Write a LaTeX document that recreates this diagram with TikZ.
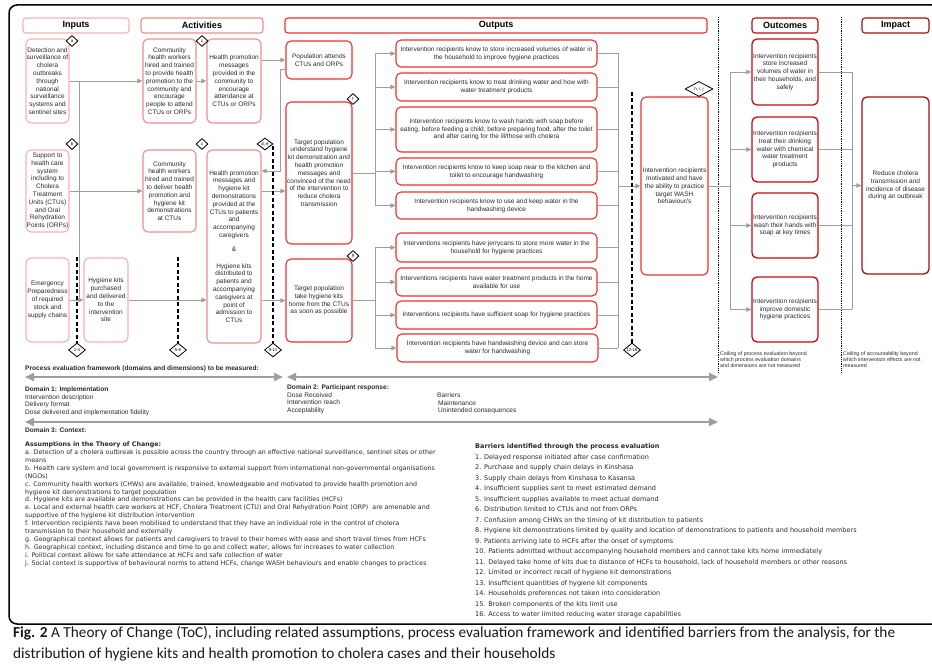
\documentclass[tikz,border=0pt]{standalone}
\usepackage{fontspec}
\setmainfont{Liberation Sans}
\newfontfamily\verdana{DejaVu Sans}
\newfontfamily\capfont{Carlito}
\usetikzlibrary{arrows.meta,shapes.geometric}

\definecolor{colIn}{HTML}{F7B0B0}
\definecolor{colAct}{HTML}{F28C8C}
\definecolor{colOut}{HTML}{EE3030}
\definecolor{colOc}{HTML}{C40A0A}
\definecolor{colImp}{HTML}{A01010}
\definecolor{conn}{HTML}{9E9E9E}
\definecolor{txt}{HTML}{2A2A2A}

\tikzset{
  box/.style={draw, rounded corners=5pt, line width=1.1pt, align=center, inner sep=0pt,
              font=\fontsize{6.5}{7.8}\selectfont, text=txt},
  head/.style={draw, rounded corners=3pt, line width=1.1pt, inner sep=0pt,
               font=\fontsize{9}{10}\selectfont\bfseries},
  arr/.style={draw=conn, line width=0.9pt, -{Triangle[length=5pt,width=4.5pt]}},
  ln/.style={draw=conn, line width=0.9pt},
  dsh/.style={draw=black, line width=1.4pt, dash pattern=on 4pt off 2.5pt},
  dmd/.style={diamond, draw, fill=white, line width=0.8pt, inner sep=0pt,
              minimum width=12pt, minimum height=11pt, font=\fontsize{4.3}{4.3}\selectfont},
  dmdw/.style={dmd, minimum width=17pt, minimum height=14pt},
  bigarr/.style={draw=conn, line width=2.2pt,
                 {Triangle[length=9pt,width=8pt]}-{Triangle[length=9pt,width=8pt]}},
  ceil/.style={draw=black, line width=0.5pt, dash pattern=on 0.6pt off 1.2pt},
  small/.style={inner sep=0pt, align=left, text=txt, font=\fontsize{6.6}{7.7}\selectfont},
  tiny/.style={inner sep=0pt, align=left, text=txt, font=\fontsize{5.3}{6}\selectfont},
}

% box given by its corners: name, x1, y1, x2, y2, style, text
\newcommand\bx[7]{\node[#6, minimum width={#4-#2}, minimum height={#5-#3}] (#1)
  at ({(#2+#4)/2},{(#3+#5)/2}) {#7};}

\begin{document}
\begin{tikzpicture}[x=1pt,y=-1pt]
\useasboundingbox (0,0) rectangle (932,668);

% outer frame
\draw[line width=1.5pt, rounded corners=8pt] (9,624) -- (9,5) -- (940,5) -- (940,624) -- cycle;

% column headers
\bx{hIn}{23}{18}{129}{33}{head,draw=colIn}{Inputs}
\bx{hAct}{141}{18}{263}{33}{head,draw=colAct}{Activities}
\bx{hOut}{285}{18}{707}{33}{head,draw=colOut}{Outputs}
\bx{hOc}{752}{18}{818}{33}{head,draw=colOc}{Outcomes}
\bx{hImp}{862}{18}{929}{33}{head,draw=colImp}{Impact}

% ceilings
\draw[ceil] (718,17) -- (718,372);
\draw[ceil] (841,17) -- (841,372);

% inputs
\bx{I1}{26}{39}{69}{123}{box,draw=colIn}{Detection and\\surveillance of\\cholera\\outbreaks\\through\\national\\surveillance\\systems and\\sentinel sites}
\bx{I2}{26}{150}{69}{232}{box,draw=colIn}{Support to\\health care\\system\\including to\\Cholera\\Treatment\\Units (CTUs)\\and Oral\\Rehydration\\Points (ORPs)}
\bx{I3}{26}{258}{69}{342}{box,draw=colIn}{Emergency\\Preparedness\\of required\\stock and\\supply chains}
\bx{I4}{84}{258}{128}{342}{box,draw=colIn}{Hygiene kits\\purchased\\and delivered\\to the\\intervention\\site}

% activities
\bx{A1}{143}{39}{196}{123}{box,draw=colAct}{Community\\health workers\\hired and trained\\to provide health\\promotion to the\\community and\\encourage\\people to attend\\CTUs or ORPs}
\bx{A2}{207}{39}{261}{123}{box,draw=colAct}{Health promotion\\messages\\provided in the\\community to\\encourage\\attendance at\\CTUs or ORPs}
\bx{A3}{143}{150}{196}{232}{box,draw=colAct}{Community\\health workers\\hired and trained\\to deliver health\\promotion and\\hygiene kit\\demonstrations\\at CTUs}
\bx{A4}{207}{150}{261}{343}{box,draw=colAct}{Health promotion\\messages and\\hygiene kit\\demonstrations\\provided at the\\CTUs to patients\\and\\accompanying\\caregivers\\[6pt]\&\\[9pt]Hygiene kits\\distributed to\\patients and\\accompanying\\caregivers at\\point of\\admission to\\CTUs}

% outputs
\bx{O1}{286}{41}{352}{79}{box,draw=colOut}{Population attends\\CTUs and ORPs}
\bx{O2}{286}{102}{352}{244}{box,draw=colOut}{Target population\\understand hygiene\\kit demonstration and\\health promotion\\messages and\\convinced of the need\\of the intervention to\\reduce cholera\\transmission}
\bx{O3}{286}{259}{352}{342}{box,draw=colOut}{Target population\\take hygiene kits\\home from the CTUs\\as soon as possible}

\bx{R1}{396}{40}{597}{67}{box,draw=colOut}{Intervention recipients know to store increased volumes of water in\\the household to improve hygiene practices}
\bx{R2}{396}{73}{597}{101}{box,draw=colOut}{Intervention recipients know to treat drinking water and how with\\water treatment products}
\bx{R3}{396}{107}{597}{152}{box,draw=colOut}{Intervention recipients know to wash hands with soap before\\eating, before feeding a child, before preparing food, after the toilet\\and after caring for the ill/those with cholera}
\bx{R4}{396}{158}{597}{185}{box,draw=colOut}{Intervention recipients know to keep soap near to the kitchen and\\toilet to encourage handwashing}
\bx{R5}{396}{192}{597}{219}{box,draw=colOut}{Intervention recipients know to use and keep water in the\\handwashing device}
\bx{R6}{396}{233}{597}{262}{box,draw=colOut}{Interventions recipients have jerrycans to store more water in the\\household for hygiene practices}
\bx{R7}{396}{268}{597}{296}{box,draw=colOut}{Interventions recipients have water treatment products in the home\\available for use}
\bx{R8}{396}{301}{597}{329}{box,draw=colOut}{Interventions recipients have sufficient soap for hygiene practices}
\bx{R9}{397}{334}{598}{362}{box,draw=colOut}{Intervention recipients have handwashing device and can store\\water for handwashing}

\bx{M}{641}{97}{708}{275}{box,draw=colOut}{Intervention recipients\\motivated and have\\the ability to practice\\target WASH\\behaviour/s}

% outcomes and impact
\bx{OC1}{752}{39}{818}{105}{box,draw=colOc,line width=1.3pt}{Intervention recipients\\store increased\\volumes of water in\\their households, and\\safely}
\bx{OC2}{752}{117}{818}{182}{box,draw=colOc,line width=1.3pt}{Intervention recipients\\treat their drinking\\water with chemical\\water treatment\\products}
\bx{OC3}{752}{193}{818}{258}{box,draw=colOc,line width=1.3pt}{Intervention recipients\\wash their hands with\\soap at key times}
\bx{OC4}{752}{277}{818}{342}{box,draw=colOc,line width=1.3pt}{Intervention recipients\\improve domestic\\hygiene practices}
\bx{IMP}{862}{97}{929}{274}{box,draw=colImp,line width=1.3pt}{Reduce cholera\\transmission and\\incidence of disease\\during an outbreak}

% connectors: inputs and activities
\coordinate (jI) at (79,81);
\draw[arr] (I1.east) -- (A1.west);
\draw[ln] (jI) -- (jI|-I3.east);
\draw[arr] (I2.east) -- (A3.west);
\draw[arr] (I3.east) -- (I4.west);
\draw[arr] (I4.east) -- (A4.west|-I4.east);
\draw[arr] (A1.east) -- (A2.west);
\draw[arr] (A2.east|-O1.west) -- (O1.west);
\coordinate (fb1) at (280,69);
\coordinate (fb2) at (280,171);
\draw[arr] (O1.west|-fb1) -- (fb1) -- (fb2) -- (A4.east|-fb2);
\coordinate (y191) at (0,191);
\draw[arr] (A4.east|-y191) -- (O2.west|-y191);
\draw[arr] (A4.east|-O3.west) -- (O3.west);

% connectors: outputs fan out
\coordinate (bus1) at (375,173);
\coordinate (bus2) at (375,300);
\draw[ln] (O2.east) -- (bus1|-O2.east);
\draw[ln] (bus1|-R1.west) -- (bus1|-R5.west);
\foreach \r in {R1,R2,R3,R4,R5} \draw[arr] (bus1|-\r.west) -- (\r.west);
\draw[ln] (O3.east) -- (bus2|-O3.east);
\draw[ln] (bus2|-R6.west) -- (bus2|-R9.west);
\foreach \r in {R6,R7,R8,R9} \draw[arr] (bus2|-\r.west) -- (\r.west);

\coordinate (bus3) at (618,185);
\foreach \r in {R1,R2,R3,R4,R5,R6,R7,R8,R9} \draw[ln] (\r.east) -- (bus3|-\r.east);
\draw[ln] (bus3|-R1.east) -- (bus3|-R9.east);
\draw[arr] (bus3|-M.west) -- (M.west);

\coordinate (bus4) at (730,185);
\draw[ln] (M.east) -- (bus4|-M.east);
\draw[ln] (bus4|-OC1.west) -- (bus4|-OC4.west);
\foreach \r in {OC1,OC2,OC3,OC4} \draw[arr] (bus4|-\r.west) -- (\r.west);

\coordinate (bus5) at (852,185);
\foreach \r in {OC1,OC2,OC3,OC4} \draw[ln] (\r.east) -- (bus5|-\r.east);
\draw[ln] (bus5|-OC1.east) -- (bus5|-OC4.east);
\draw[arr] (bus5|-IMP.west) -- (IMP.west);

% barrier markers
\node[dmdw] (d14) at (77,350) {1-4};
\node[dmdw] (d58) at (178,350) {5-8};
\node[dmdw] (d911) at (273,350) {9-11};
\node[dmdw] (d1216) at (632,350) {12-16};
\coordinate (t14) at (77,257);
\coordinate (t58) at (178,257);
\coordinate (t911) at (273,146);
\coordinate (t1216) at (632,92);
\draw[dsh] (t14) -- (d14.north);
\draw[dsh] (t58) -- (d58.north);
\draw[dsh] (t911) -- (d911.north);
\draw[dsh] (t1216) -- (d1216.north);

% assumption markers
\node[dmd] (da) at (72,41) {a};
\node[dmd] (db) at (72,144) {b};
\node[dmd] (dc1) at (202,41) {c};
\node[dmd] (dc2) at (202,144) {c};
\node[dmd, minimum width=16pt, minimum height=12pt] (dde) at (265,144) {d, e};
\node[dmd] (df) at (353,99) {f};
\node[dmd] (dg) at (353,256) {g};
\node[dmd, minimum width=28pt, minimum height=15pt] (dhij) at (699,89) {h, i, j};

% ceiling notes
\node[tiny, anchor=north west] (c1) at (720,351) {Ceiling of process evaluation beyond\\which process evaluation domains\\and dimensions are not measured};
\node[tiny, anchor=north west] (c2) at (843,351) {Ceiling of accountability beyond\\which intervention effects are not\\measured};

% process evaluation framework
\node[small, anchor=west, font=\fontsize{6.6}{7.7}\selectfont\bfseries] (pet) at (25,369) {Process evaluation framework (domains and dimensions) to be measured:};
\coordinate (pe1a) at (25,377); \coordinate (pe1b) at (283,377);
\coordinate (pe2a) at (287,377); \coordinate (pe2b) at (718,377);
\coordinate (pe3a) at (25,422); \coordinate (pe3b) at (718,422);
\draw[bigarr] (pe1a) -- (pe1b);
\draw[bigarr] (pe2a) -- (pe2b);
\draw[bigarr] (pe3a) -- (pe3b);
\node[small, anchor=north west] (dom1) at (25,386.5) {\textbf{Domain 1: Implementation}\\Intervention description\\Delivery format\\Dose delivered and implementation fidelity};
\node[small, anchor=north west] (dom2) at (287,384.5) {\textbf{Domain 2: Participant response:}\\Dose Received\\Intervention reach\\Acceptability};
\node[small, anchor=north west] (dom2b) at (437,392.5) {Barriers\\\hspace*{1pt}Maintenance\\\hspace*{1pt}Unintended consequences};
\node[small, anchor=west, font=\fontsize{6.6}{7.7}\selectfont\bfseries] (dom3) at (25,430) {Domain 3: Context:};

% assumptions
\node[inner sep=0pt, align=left, text=txt, anchor=north west,
      font=\verdana\fontsize{6.3}{7.93}\selectfont] (assum) at (25,441.5) {%
\textbf{Assumptions in the Theory of Change:}\\
a. Detection of a cholera outbreak is possible across the country through an effective national surveillance, sentinel sites or other\\
means\\
b. Health care system and local government is responsive to external support from international non-governmental organisations\\
(NGOs)\\
c. Community health workers (CHWs) are available, trained, knowledgeable and motivated to provide health promotion and\\
hygiene kit demonstrations to target population\\
d. Hygiene kits are available and demonstrations can be provided in the health care facilities (HCFs)\\
e. Local and external health care workers at HCF, Cholera Treatment (CTU) and Oral Rehydration Point (ORP)\ \ are amenable and\\
supportive of the hygiene kit distribution intervention\\
f. Intervention recipients have been mobilised to understand that they have an individual role in the control of cholera\\
transmission to their household and externally\\
g. Geographical context allows for patients and caregivers to travel to their homes with ease and short travel times from HCFs\\
h. Geographical context, including distance and time to go and collect water, allows for increases to water collection\\
i. Political context allows for safe attendance at HCFs and safe collection of water\\
j. Social context is supportive of behavioural norms to attend HCFs, change WASH behaviours and enable changes to practices};

% barriers
\node[inner sep=0pt, align=left, text=txt, anchor=north west,
      font=\verdana\fontsize{6.5}{10.5}\selectfont] (barr) at (475,443.5) {%
\textbf{Barriers identified through the process evaluation}\\
1. Delayed response initiated after case confirmation\\
2. Purchase and supply chain delays in Kinshasa\\
3. Supply chain delays from Kinshasa to Kasansa\\
4. Insufficient supplies sent to meet estimated demand\\
5. Insufficient supplies available to meet actual demand\\
6. Distribution limited to CTUs and not from ORPs\\
7. Confusion among CHWs on the timing of kit distribution to patients\\
8. Hygiene kit demonstrations limited by quality and location of demonstrations to patients and household members\\
9. Patients arriving late to HCFs after the onset of symptoms\\
10. Patients admitted without accompanying household members and cannot take kits home immediately\\
11. Delayed take home of kits due to distance of HCFs to household, lack of household members or other reasons\\
12. Limited or incorrect recall of hygiene kit demonstrations\\
13. Insufficient quantities of hygiene kit components\\
14. Households preferences not taken into consideration\\
15. Broken components of the kits limit use\\
16. Access to water limited reducing water storage capabilities};

% caption
\node[inner sep=0pt, align=left, anchor=north west, text=black!90,
      font=\capfont\fontsize{15.3}{21}\selectfont] (cap) at (13,626.5) {%
\textbf{Fig. 2} A Theory of Change (ToC), including related assumptions, process evaluation framework and identified barriers from the analysis, for the\\
distribution of hygiene kits and health promotion to cholera cases and their households};
\end{tikzpicture}
\end{document}
